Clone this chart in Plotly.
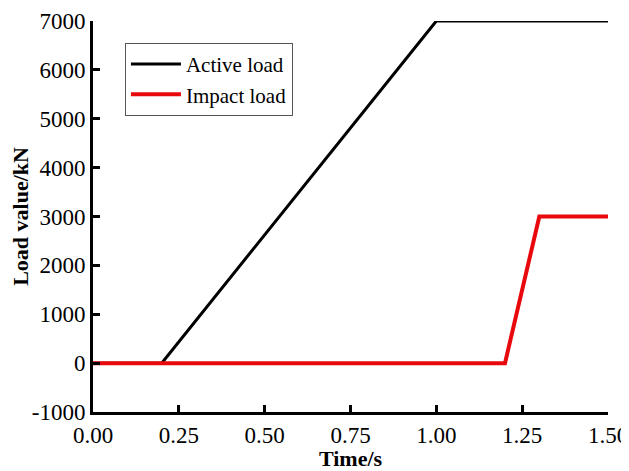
import plotly.graph_objects as go

active_t = [0.0, 0.2, 1.0, 1.5]
active_load = [0, 0, 7000, 7000]
impact_t = [0.0, 1.2, 1.3, 1.5]
impact_load = [0, 0, 3000, 3000]
x_ticks = [0.0, 0.25, 0.5, 0.75, 1.0, 1.25, 1.5]
x_tick_text = ["0.00", "0.25", "0.50", "0.75", "1.00", "1.25", "1.50"]
y_ticks = [-1000, 0, 1000, 2000, 3000, 4000, 5000, 6000, 7000]
y_tick_text = ["-1000", "0", "1000", "2000", "3000", "4000", "5000", "6000", "7000"]

font_fam = "Liberation Serif, Times New Roman, serif"

fig = go.Figure()
fig.add_trace(go.Scatter(x=active_t, y=active_load, mode="lines", name="Active load",
                         line=dict(color="black", width=3)))
fig.add_trace(go.Scatter(x=impact_t, y=impact_load, mode="lines", name="Impact load",
                         line=dict(color="#e8090d", width=4)))

fig.update_layout(
    width=621, height=463,
    margin=dict(l=85, r=21, t=13, b=59),
    paper_bgcolor="white", plot_bgcolor="white",
    font=dict(family=font_fam, size=23, color="black"),
    showlegend=True,
    legend=dict(x=0.062, y=0.944, xanchor="left", yanchor="top",
                bgcolor="white", bordercolor="#555555", borderwidth=1,
                itemwidth=50,
                font=dict(size=21, family=font_fam), tracegroupgap=0),
)
fig.update_xaxes(range=[0, 1.5], tickvals=x_ticks, ticktext=x_tick_text,
                 showline=True, linecolor="black", linewidth=3,
                 ticks="inside", ticklen=7, tickwidth=3, tickcolor="black",
                 showgrid=False, zeroline=False, mirror=False, automargin=False,
                 title=dict(text="<b>Time/s</b>", standoff=2, font=dict(size=22)))
fig.update_yaxes(range=[-1000, 7000], tickvals=y_ticks, ticktext=y_tick_text,
                 showline=True, linecolor="black", linewidth=3,
                 ticks="inside", ticklen=7, tickwidth=3, tickcolor="black",
                 showgrid=False, zeroline=False, mirror=False, automargin=False,
                 title=dict(text="<b>Load value/kN</b>", standoff=6, font=dict(size=22)))

fig.write_html("out.html")
